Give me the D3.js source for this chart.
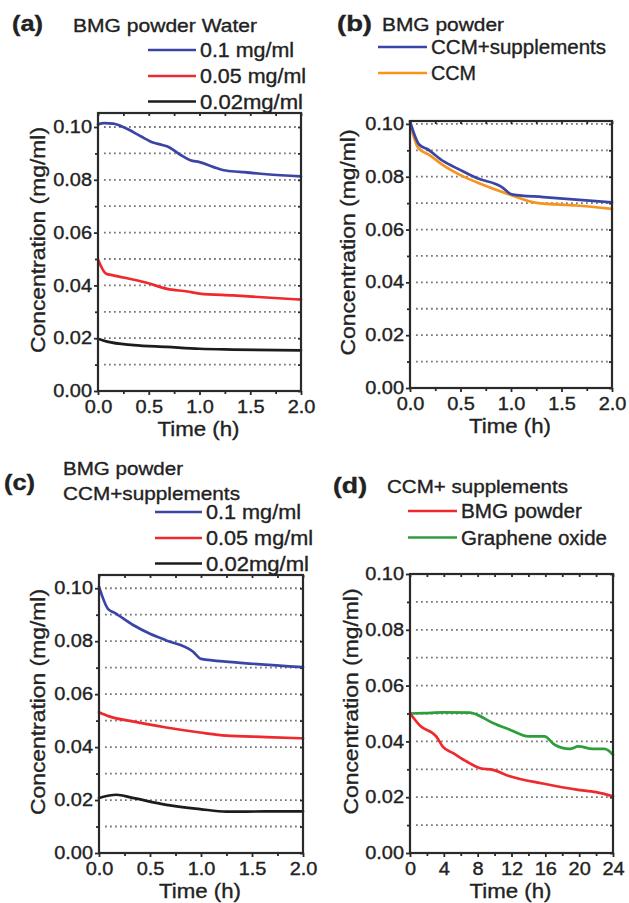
<!DOCTYPE html>
<html><head><meta charset="utf-8">
<script src="https://cdn.jsdelivr.net/npm/d3@7"></script>
<style>
body{margin:0;background:#fff}
svg{display:block}
text{font-family:"Liberation Sans",Arial,sans-serif;fill:#222;stroke:#222;stroke-width:0.35px}
</style>
</head><body><svg id="chart" width="629" height="903"></svg>
<script>
// ---------- DATA ----------
// Panel (a): BMG powder in water
const timeA1 = [0, 0.06, 0.15, 0.28, 0.42, 0.55, 0.61, 0.68, 0.81, 0.91, 1.0, 1.14, 1.24, 1.4, 1.66, 2.0];
const concA1 = [0.1010, 0.1015, 0.1013, 0.0994, 0.0965, 0.0940, 0.0934, 0.0927, 0.0895, 0.0874, 0.0867, 0.0848, 0.0836, 0.0830, 0.0821, 0.0813];
const timeA2 = [0, 0.08, 0.15, 0.48, 0.68, 0.88, 1.0, 1.33, 2.0];
const concA2 = [0.0498, 0.0444, 0.0438, 0.0410, 0.0387, 0.0377, 0.0369, 0.0362, 0.0346];
const timeA3 = [0, 0.09, 0.35, 0.68, 1.0, 1.33, 2.0];
const concA3 = [0.0198, 0.0187, 0.0174, 0.0167, 0.0160, 0.0157, 0.0154];
// Panel (b): BMG powder, CCM+supplements vs CCM
const timeB1 = [0, 0.09, 0.17, 0.33, 0.49, 0.66, 0.92, 0.99, 1.02, 1.32, 2.0];
const concB1 = [0.1010, 0.0922, 0.0905, 0.0859, 0.0827, 0.0795, 0.0758, 0.0736, 0.0732, 0.0723, 0.0703];
const timeB2 = [0, 0.08, 0.2, 0.33, 0.49, 0.66, 0.99, 1.25, 1.65, 2.0];
const concB2 = [0.1004, 0.0910, 0.0880, 0.0843, 0.0808, 0.0779, 0.0732, 0.0701, 0.0691, 0.0678];
// Panel (c): BMG powder in CCM+supplements
const timeC1 = [0, 0.09, 0.15, 0.33, 0.5, 0.66, 0.92, 1.0, 1.31, 2.0];
const concC1 = [0.1006, 0.0921, 0.0908, 0.0862, 0.0828, 0.0803, 0.0761, 0.0733, 0.0721, 0.0702];
const timeC2 = [0, 0.1, 0.33, 0.66, 0.99, 1.25, 1.64, 2.0];
const concC2 = [0.0532, 0.0516, 0.0497, 0.0474, 0.0455, 0.0443, 0.0438, 0.0433];
const timeC3 = [0, 0.17, 0.33, 0.66, 0.99, 1.25, 1.64, 2.0];
const concC3 = [0.0208, 0.0220, 0.0208, 0.0182, 0.0166, 0.0156, 0.0157, 0.0157];
// Panel (d): CCM+ supplements, BMG powder vs graphene oxide (24 h)
const timeD1 = [0, 1.2, 3.1, 3.9, 5.1, 6.7, 8.3, 9.8, 11.8, 15.7, 19.7, 22.0, 24];
const concD1 = [0.0501, 0.0456, 0.0418, 0.0380, 0.0358, 0.0328, 0.0304, 0.0298, 0.0275, 0.0249, 0.0227, 0.0218, 0.0203];
const timeD2 = [0, 1.6, 3.9, 7.1, 7.9, 9.8, 11.8, 14.0, 15.9, 17.1, 18.9, 19.9, 21.6, 23.0, 24];
const concD2 = [0.0500, 0.0501, 0.0504, 0.0503, 0.0496, 0.0466, 0.0442, 0.0418, 0.0418, 0.0388, 0.0373, 0.0382, 0.0373, 0.0373, 0.0352];

// Tick values / labels
const yTickValues = [0, 0.02, 0.04, 0.06, 0.08, 0.10];
const yTickLabels = ["0.00", "0.02", "0.04", "0.06", "0.08", "0.10"];
const yMinorValues = [0.01, 0.03, 0.05, 0.07, 0.09];
const xTickValuesH2 = [0, 0.5, 1.0, 1.5, 2.0];
const xTickLabelsH2 = ["0.0", "0.5", "1.0", "1.5", "2.0"];
const xMinorValuesH2 = [0.25, 0.75, 1.25, 1.75];
const xTickValuesH24 = [0, 4, 8, 12, 16, 20, 24];
const xTickLabelsH24 = ["0", "4", "8", "12", "16", "20", "24"];
const xMinorValuesH24 = [2, 6, 10, 14, 18, 22];

// Series names
const legendConc = ["0.1 mg/ml", "0.05 mg/ml", "0.02mg/ml"];
const legendMedium = ["CCM+supplements", "CCM"];
const legendMaterial = ["BMG powder", "Graphene oxide"];

// ---------- DRAWING ----------
const BLUE = "#3b45a6", RED = "#ee2a2e", BLACK = "#1c1c1c", ORANGE = "#f7941f", GREEN = "#2e9e3c";
const svg = d3.select("#chart");

function txt(g, s, x, y, o) {
  const t = g.append("text").attr("x", x).attr("y", y).text(s)
    .attr("font-size", o.fs || 18);
  if (o.bold) t.attr("font-weight", "bold");
  if (o.anchor) t.attr("text-anchor", o.anchor);
  if (o.rot) t.attr("transform", `rotate(-90,${x},${y})`);
  if (o.w) t.attr("textLength", o.w).attr("lengthAdjust", "spacingAndGlyphs");
  return t;
}

function stretchTicks(sel, f) {
  sel.selectAll("text").each(function () {
    const L = this.getComputedTextLength();
    d3.select(this).attr("textLength", L * f).attr("lengthAdjust", "spacingAndGlyphs");
  });
}

function panel(p) {
  const g = svg.append("g");
  const x = d3.scaleLinear().domain(p.xDomain).range([p.left, p.right]);
  const y = d3.scaleLinear().domain([0, p.yTop]).range([p.bottom, p.top]);

  // dotted grid at every 0.01
  const gridVals = yMinorValues.concat(yTickValues.filter(v => v > 0)).filter(v => y(v) > p.top + 1);
  g.append("g").selectAll("line").data(gridVals).join("line")
    .attr("x1", p.left + 6).attr("x2", p.right - 2)
    .attr("y1", d => y(d)).attr("y2", d => y(d))
    .attr("stroke", "#7a7a7a").attr("stroke-width", 1.8)
    .attr("stroke-dasharray", "1.8,3.2");

  const axStyle = sel => {
    sel.select(".domain").remove();
    sel.selectAll("line").attr("stroke", "#2a2a2a").attr("stroke-width", 1.8);
  };
  const tickText = sel => sel.selectAll("text").attr("font-size", 17.5).attr("fill", "#222")
    .attr("font-family", '"Liberation Sans",Arial,sans-serif');

  // left axis
  const la = g.append("g").attr("transform", `translate(${p.left},0)`)
    .call(d3.axisLeft(y).tickValues(yTickValues).tickFormat((d, i) => yTickLabels[i]).tickSize(4).tickPadding(2));
  la.call(axStyle).call(tickText);
  stretchTicks(la, 1.14);
  g.append("g").attr("transform", `translate(${p.left},0)`)
    .call(d3.axisLeft(y).tickValues(yMinorValues).tickFormat("").tickSize(3)).call(axStyle);
  // right ticks (inward)
  g.append("g").attr("transform", `translate(${p.right},0)`)
    .call(d3.axisLeft(y).tickValues(yMinorValues.concat(yTickValues)).tickFormat("").tickSize(3)).call(axStyle);

  // bottom axis
  const ba = g.append("g").attr("transform", `translate(0,${p.bottom})`)
    .call(d3.axisBottom(x).tickValues(p.xTicks).tickFormat((d, i) => p.xLabels[i]).tickSize(4).tickPadding(6));
  ba.call(axStyle).call(tickText);
  stretchTicks(ba, 1.14);
  g.append("g").attr("transform", `translate(0,${p.bottom})`)
    .call(d3.axisBottom(x).tickValues(p.xMinor).tickFormat("").tickSize(3)).call(axStyle);
  // top ticks (inward)
  g.append("g").attr("transform", `translate(0,${p.top})`)
    .call(d3.axisBottom(x).tickValues(p.xTicks.concat(p.xMinor)).tickFormat("").tickSize(3)).call(axStyle);

  // data lines
  const line = d3.line().x(d => x(d[0])).y(d => y(d[1])).curve(d3.curveMonotoneX);
  p.series.forEach(s => {
    g.append("path").datum(d3.zip(s.t, s.c)).attr("d", line)
      .attr("fill", "none").attr("stroke", s.color).attr("stroke-width", 2.7)
      .attr("stroke-linejoin", "round").attr("stroke-linecap", "round");
  });

  // frame
  g.append("rect").attr("x", p.left).attr("y", p.top)
    .attr("width", p.right - p.left).attr("height", p.bottom - p.top)
    .attr("fill", "none").attr("stroke", "#2a2a2a").attr("stroke-width", 2.2);

  // axis titles
  txt(g, "Concentration (mg/ml)", p.yTitleX, (p.top + p.bottom) / 2 - 12, { fs: 21, anchor: "middle", rot: true, w: 226 });
  txt(g, "Time (h)", (p.left + p.right) / 2 - 1, p.bottom + 45, { fs: 21, anchor: "middle", w: 82 });

  // legend entries
  p.legend.forEach(l => {
    g.append("line").attr("x1", l.x1).attr("x2", l.x2).attr("y1", l.y).attr("y2", l.y)
      .attr("stroke", l.color).attr("stroke-width", 2.7);
    txt(g, l.label, l.x2 + 4, l.y + 7, { fs: 20, w: l.w });
  });
  return g;
}

// Panel (a)
panel({
  left: 98, right: 301, top: 113, bottom: 391, yTop: 0.1053, yTitleX: 45,
  xDomain: [0, 2], xTicks: xTickValuesH2, xLabels: xTickLabelsH2, xMinor: xMinorValuesH2,
  series: [
    { t: timeA1, c: concA1, color: BLUE },
    { t: timeA2, c: concA2, color: RED },
    { t: timeA3, c: concA3, color: BLACK }],
  legend: [
    { x1: 148, x2: 196, y: 50, color: BLUE, label: legendConc[0], w: 94 },
    { x1: 148, x2: 196, y: 76, color: RED, label: legendConc[1], w: 106 },
    { x1: 148, x2: 196, y: 101.5, color: BLACK, label: legendConc[2], w: 103 }]
});
txt(svg, "(a)", 12, 31, { fs: 22, bold: true, w: 31 });
txt(svg, "BMG powder Water", 73, 32, { fs: 19, w: 184 });

// Panel (b)
panel({
  left: 410, right: 612, top: 121, bottom: 388, yTop: 0.1011, yTitleX: 355,
  xDomain: [0, 2], xTicks: xTickValuesH2, xLabels: xTickLabelsH2, xMinor: xMinorValuesH2,
  series: [
    { t: timeB2, c: concB2, color: ORANGE },
    { t: timeB1, c: concB1, color: BLUE }],
  legend: [
    { x1: 378, x2: 427, y: 47, color: BLUE, label: legendMedium[0], w: 175 },
    { x1: 378, x2: 427, y: 73, color: ORANGE, label: legendMedium[1], w: 45 }]
});
txt(svg, "(b)", 337, 31, { fs: 22, bold: true, w: 35 });
txt(svg, "BMG powder", 382, 31, { fs: 19, w: 122 });

// Panel (c)
panel({
  left: 99, right: 303, top: 575, bottom: 853, yTop: 0.105, yTitleX: 45,
  xDomain: [0, 2], xTicks: xTickValuesH2, xLabels: xTickLabelsH2, xMinor: xMinorValuesH2,
  series: [
    { t: timeC1, c: concC1, color: BLUE },
    { t: timeC2, c: concC2, color: RED },
    { t: timeC3, c: concC3, color: BLACK }],
  legend: [
    { x1: 155, x2: 202, y: 512, color: BLUE, label: legendConc[0], w: 95 },
    { x1: 155, x2: 202, y: 538, color: RED, label: legendConc[1], w: 107 },
    { x1: 155, x2: 202, y: 563.5, color: BLACK, label: legendConc[2], w: 103 }]
});
txt(svg, "(c)", 4, 490, { fs: 22, bold: true, w: 31 });
txt(svg, "BMG powder", 63, 475, { fs: 19, w: 120 });
txt(svg, "CCM+supplements", 63, 500, { fs: 19, w: 177 });

// Panel (d)
panel({
  left: 410, right: 613, top: 574, bottom: 853, yTop: 0.10, yTitleX: 358,
  xDomain: [0, 24], xTicks: xTickValuesH24, xLabels: xTickLabelsH24, xMinor: xMinorValuesH24,
  series: [
    { t: timeD2, c: concD2, color: GREEN },
    { t: timeD1, c: concD1, color: RED }],
  legend: [
    { x1: 408, x2: 457, y: 511, color: RED, label: legendMaterial[0], w: 121 },
    { x1: 408, x2: 457, y: 537.5, color: GREEN, label: legendMaterial[1], w: 146 }]
});
txt(svg, "(d)", 333, 493, { fs: 22, bold: true, w: 34 });
txt(svg, "CCM+ supplements", 387, 493, { fs: 19, w: 181 });
</script>
</body></html>
